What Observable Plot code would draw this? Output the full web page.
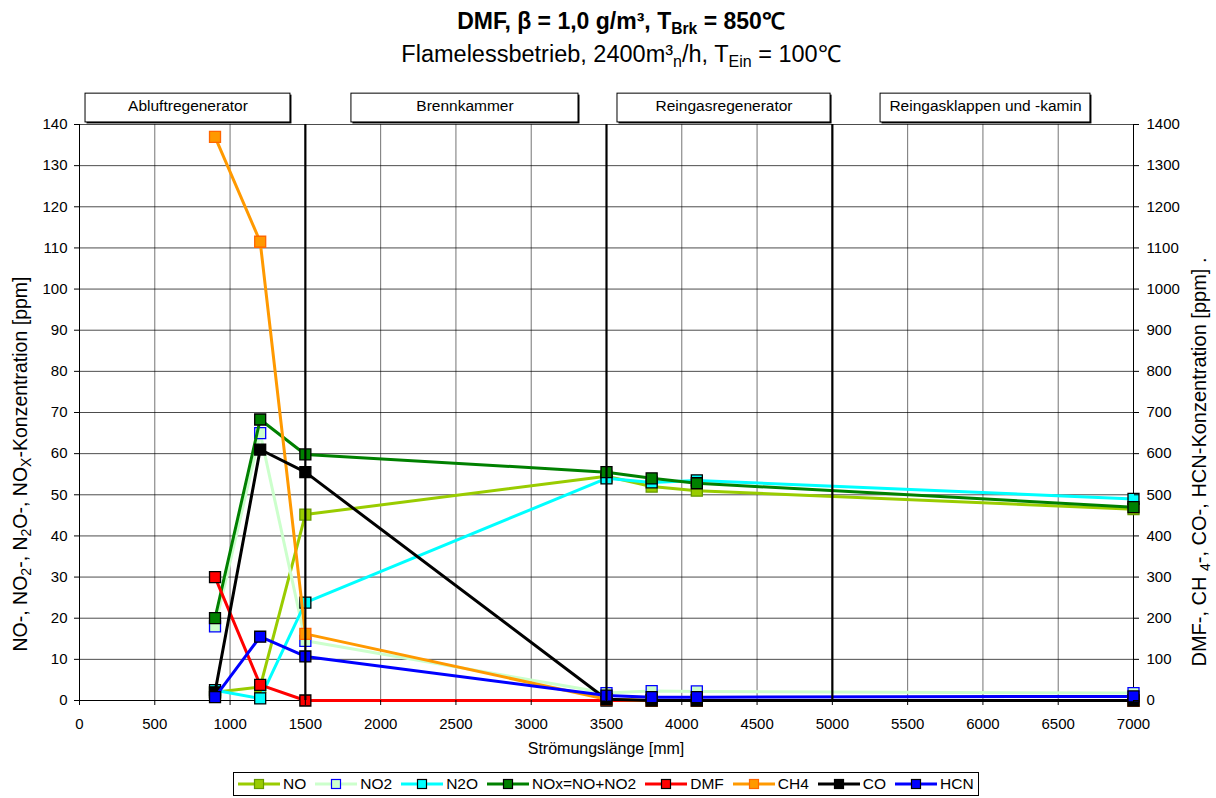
<!DOCTYPE html>
<html>
<head>
<meta charset="utf-8">
<script src="https://cdn.jsdelivr.net/npm/d3@7"></script>
<script src="https://cdn.jsdelivr.net/npm/@observablehq/plot@0.6"></script>
<style>
  body { margin: 0; background: #fff; font-family: "Liberation Sans", Arial, sans-serif; color: #000; }
  #wrap { position: relative; width: 1216px; height: 798px; overflow: hidden; }
  .head { position: absolute; left: 0; width: 1242px; text-align: center; font-size: 23px; line-height: 1; white-space: nowrap; }
  #title { top: 10px; font-weight: bold; }
  #subtitle { top: 43px; font-size: 23.5px; }
  .head sub { font-size: 68%; vertical-align: -0.3em; line-height: 0; }
  #chart { position: absolute; left: 0; top: 68px; }
  #legend { position: absolute; left: 233px; top: 772px; width: 746px; height: 24px; border: 1px solid #000;
            box-sizing: border-box; display: flex; align-items: center; padding-left: 4px; font-size: 15.5px; background: #fff; }
  #legend .item { display: flex; align-items: center; margin-right: 9px; }
  #legend svg { margin-right: 3px; }
</style>
</head>
<body>
<div id="wrap">
  <div class="head" id="title">DMF, β = 1,0 g/m³, T<sub>Brk</sub> = 850℃</div>
  <div class="head" id="subtitle">Flamelessbetrieb, 2400m³<sub>n</sub>/h, T<sub>Ein</sub> = 100℃</div>
  <div id="chart"></div>
  <div id="legend"></div>
</div>
<script>
// Measuring positions along the flow path [mm]
const positions = [900, 1200, 1500, 3500, 3800, 4100, 7000];

// Left axis series [ppm]
const noValues   = [2, 3.3, 45.2, 54.5, 52, 51, 46.5];
const no2Values  = [18, 65, 14.5, 1.8, 2.3, 2.2, 1.8];
const n2oValues  = [2.5, 0.5, 23.8, 54, 53, 53.5, 49];
const noxValues  = [20, 68.3, 59.8, 55.5, 54, 52.8, 47];

// Right axis series [ppm]
const dmfValues  = [300, 38, 0, 0, 0, 0, 0];
const ch4Values  = [1370, 1115, 162, 3, 0, 0, 0];
const coValues   = [20, 610, 555, 3, 0, 0, 0];
const hcnValues  = [8, 155, 107, 12, 8, 8, 10];

// Axis ticks
const xTicks = d3.range(0, 7001, 500);
const yTicks = d3.range(0, 141, 10);
const rightFactor = 10; // right axis = 10 × left axis

// Plant sections and their boundaries [mm]
const sectionNames = ["Abluftregenerator", "Brennkammer", "Reingasregenerator", "Reingasklappen und -kamin"];
const sectionFrom  = [40, 1806, 3573, 5320];
const sectionTo    = [1401, 3314, 4988, 6714];
const sectionBorders = [1500, 3500, 5000];

const seriesList = [
  {name: "NO",         values: noValues,  k: 1,           line: "#99CC00", fill: "#99CC00", edge: "#669900"},
  {name: "NO2",        values: no2Values, k: 1,           line: "#CCFFCC", fill: "#CCFFCC", edge: "#0000FF"},
  {name: "N2O",        values: n2oValues, k: 1,           line: "#00FFFF", fill: "#00FFFF", edge: "#000000"},
  {name: "NOx=NO+NO2", values: noxValues, k: 1,           line: "#008000", fill: "#008000", edge: "#000000"},
  {name: "DMF",        values: dmfValues, k: rightFactor, line: "#FF0000", fill: "#FF0000", edge: "#000000"},
  {name: "CH4",        values: ch4Values, k: rightFactor, line: "#FF9900", fill: "#FF9900", edge: "#FF6600"},
  {name: "CO",         values: coValues,  k: rightFactor, line: "#000000", fill: "#000000", edge: "#000000"},
  {name: "HCN",        values: hcnValues, k: rightFactor, line: "#0000FF", fill: "#0000FF", edge: "#000000"}
];

const sections = sectionNames.map((name, i) => ({name, x1: sectionFrom[i], x2: sectionTo[i]}));

const seriesMarks = seriesList.flatMap(s => [
  Plot.line(s.values, {x: (_, i) => positions[i], y: v => v / s.k, stroke: s.line, strokeWidth: 3}),
  Plot.dot(s.values, {x: (_, i) => positions[i], y: v => v / s.k, symbol: "square", r: 6.2,
                      fill: s.fill, stroke: s.edge, strokeWidth: 1.3})
]);

const chart = Plot.plot({
  width: 1216,
  height: 700,
  marginLeft: 79,
  marginRight: 83,
  marginTop: 56,
  marginBottom: 68,
  style: {fontFamily: "'Liberation Sans', Arial, sans-serif", fontSize: "15px", background: "#fff", color: "#000", overflow: "visible"},
  x: {domain: [0, 7000], axis: null},
  y: {domain: [0, 140], axis: null},
  marks: [
    Plot.gridX(xTicks, {stroke: "#000", strokeOpacity: 0.55, strokeWidth: 1}),
    Plot.gridY(yTicks, {stroke: "#000", strokeOpacity: 0.7, strokeWidth: 1}),
    Plot.ruleX([0, 7000], {stroke: "#000", strokeWidth: 1}),
    Plot.ruleY([0], {stroke: "#000", strokeWidth: 1}),
    ...seriesMarks,
    Plot.ruleX(sectionBorders, {y1: 0, y2: 140, stroke: "#000", strokeWidth: 2.2}),
    Plot.axisX(xTicks, {tickSize: 5, tickPadding: 13, label: null, tickFormat: d => String(d)}),
    Plot.axisY(yTicks, {anchor: "left", tickSize: 5, tickPadding: 7, label: null, tickFormat: d => String(d)}),
    Plot.axisY(yTicks, {anchor: "right", tickSize: 5, tickPadding: 8, label: null, tickFormat: d => String(d * rightFactor)}),
    Plot.rect(sections, {x1: "x1", x2: "x2", y1: () => 140.5, y2: () => 147.5, fill: "#000", dx: 1.5, dy: 1.5}),
    Plot.rect(sections, {x1: "x1", x2: "x2", y1: () => 140.5, y2: () => 147.5, fill: "#fff", stroke: "#000", strokeWidth: 1}),
    Plot.text(sections, {x: d => (d.x1 + d.x2) / 2, y: () => 144.4, text: "name", fontSize: 15.5, fill: "#000"})
  ]
});

document.getElementById("chart").appendChild(chart);

// Axis titles with subscripts
const svg = d3.select(chart);

const leftTitle = svg.append("text")
  .attr("transform", "translate(27,396) rotate(-90)")
  .attr("text-anchor", "middle")
  .attr("font-size", 19.5)
  .attr("fill", "#000");
[["NO-, NO", 0], ["2", 1], ["-, N", 0], ["2", 1], ["O-, NO", 0], ["X", 1], ["-Konzentration [ppm]", 0]]
  .forEach(([t, low]) => leftTitle.append("tspan").text(t).attr("font-size", low ? 14 : 19.5)
    .attr("baseline-shift", low ? "-25%" : "0%"));

const rightTitle = svg.append("text")
  .attr("transform", "translate(1206,394) rotate(-90)")
  .attr("text-anchor", "middle")
  .attr("font-size", 20)
  .attr("fill", "#000");
[["DMF-, CH ", 0], ["4", 1], ["-, CO-, HCN-Konzentration [ppm] .", 0]]
  .forEach(([t, low]) => rightTitle.append("tspan").text(t).attr("font-size", low ? 14 : 20)
    .attr("baseline-shift", low ? "-25%" : "0%"));

svg.append("text")
  .attr("x", 606)
  .attr("y", 686)
  .attr("text-anchor", "middle")
  .attr("font-size", 16)
  .attr("fill", "#000")
  .text("Strömungslänge [mm]");

// Legend
const legend = d3.select("#legend");
seriesList.forEach(s => {
  const item = legend.append("span").attr("class", "item");
  const sw = item.append("svg").attr("width", 42).attr("height", 14);
  sw.append("line").attr("x1", 0).attr("x2", 42).attr("y1", 7).attr("y2", 7)
    .attr("stroke", s.line).attr("stroke-width", 3);
  sw.append("rect").attr("x", 16.5).attr("y", 2.5).attr("width", 9).attr("height", 9)
    .attr("fill", s.fill).attr("stroke", s.edge).attr("stroke-width", 1.2);
  item.append("span").text(s.name);
});
</script>
</body>
</html>
